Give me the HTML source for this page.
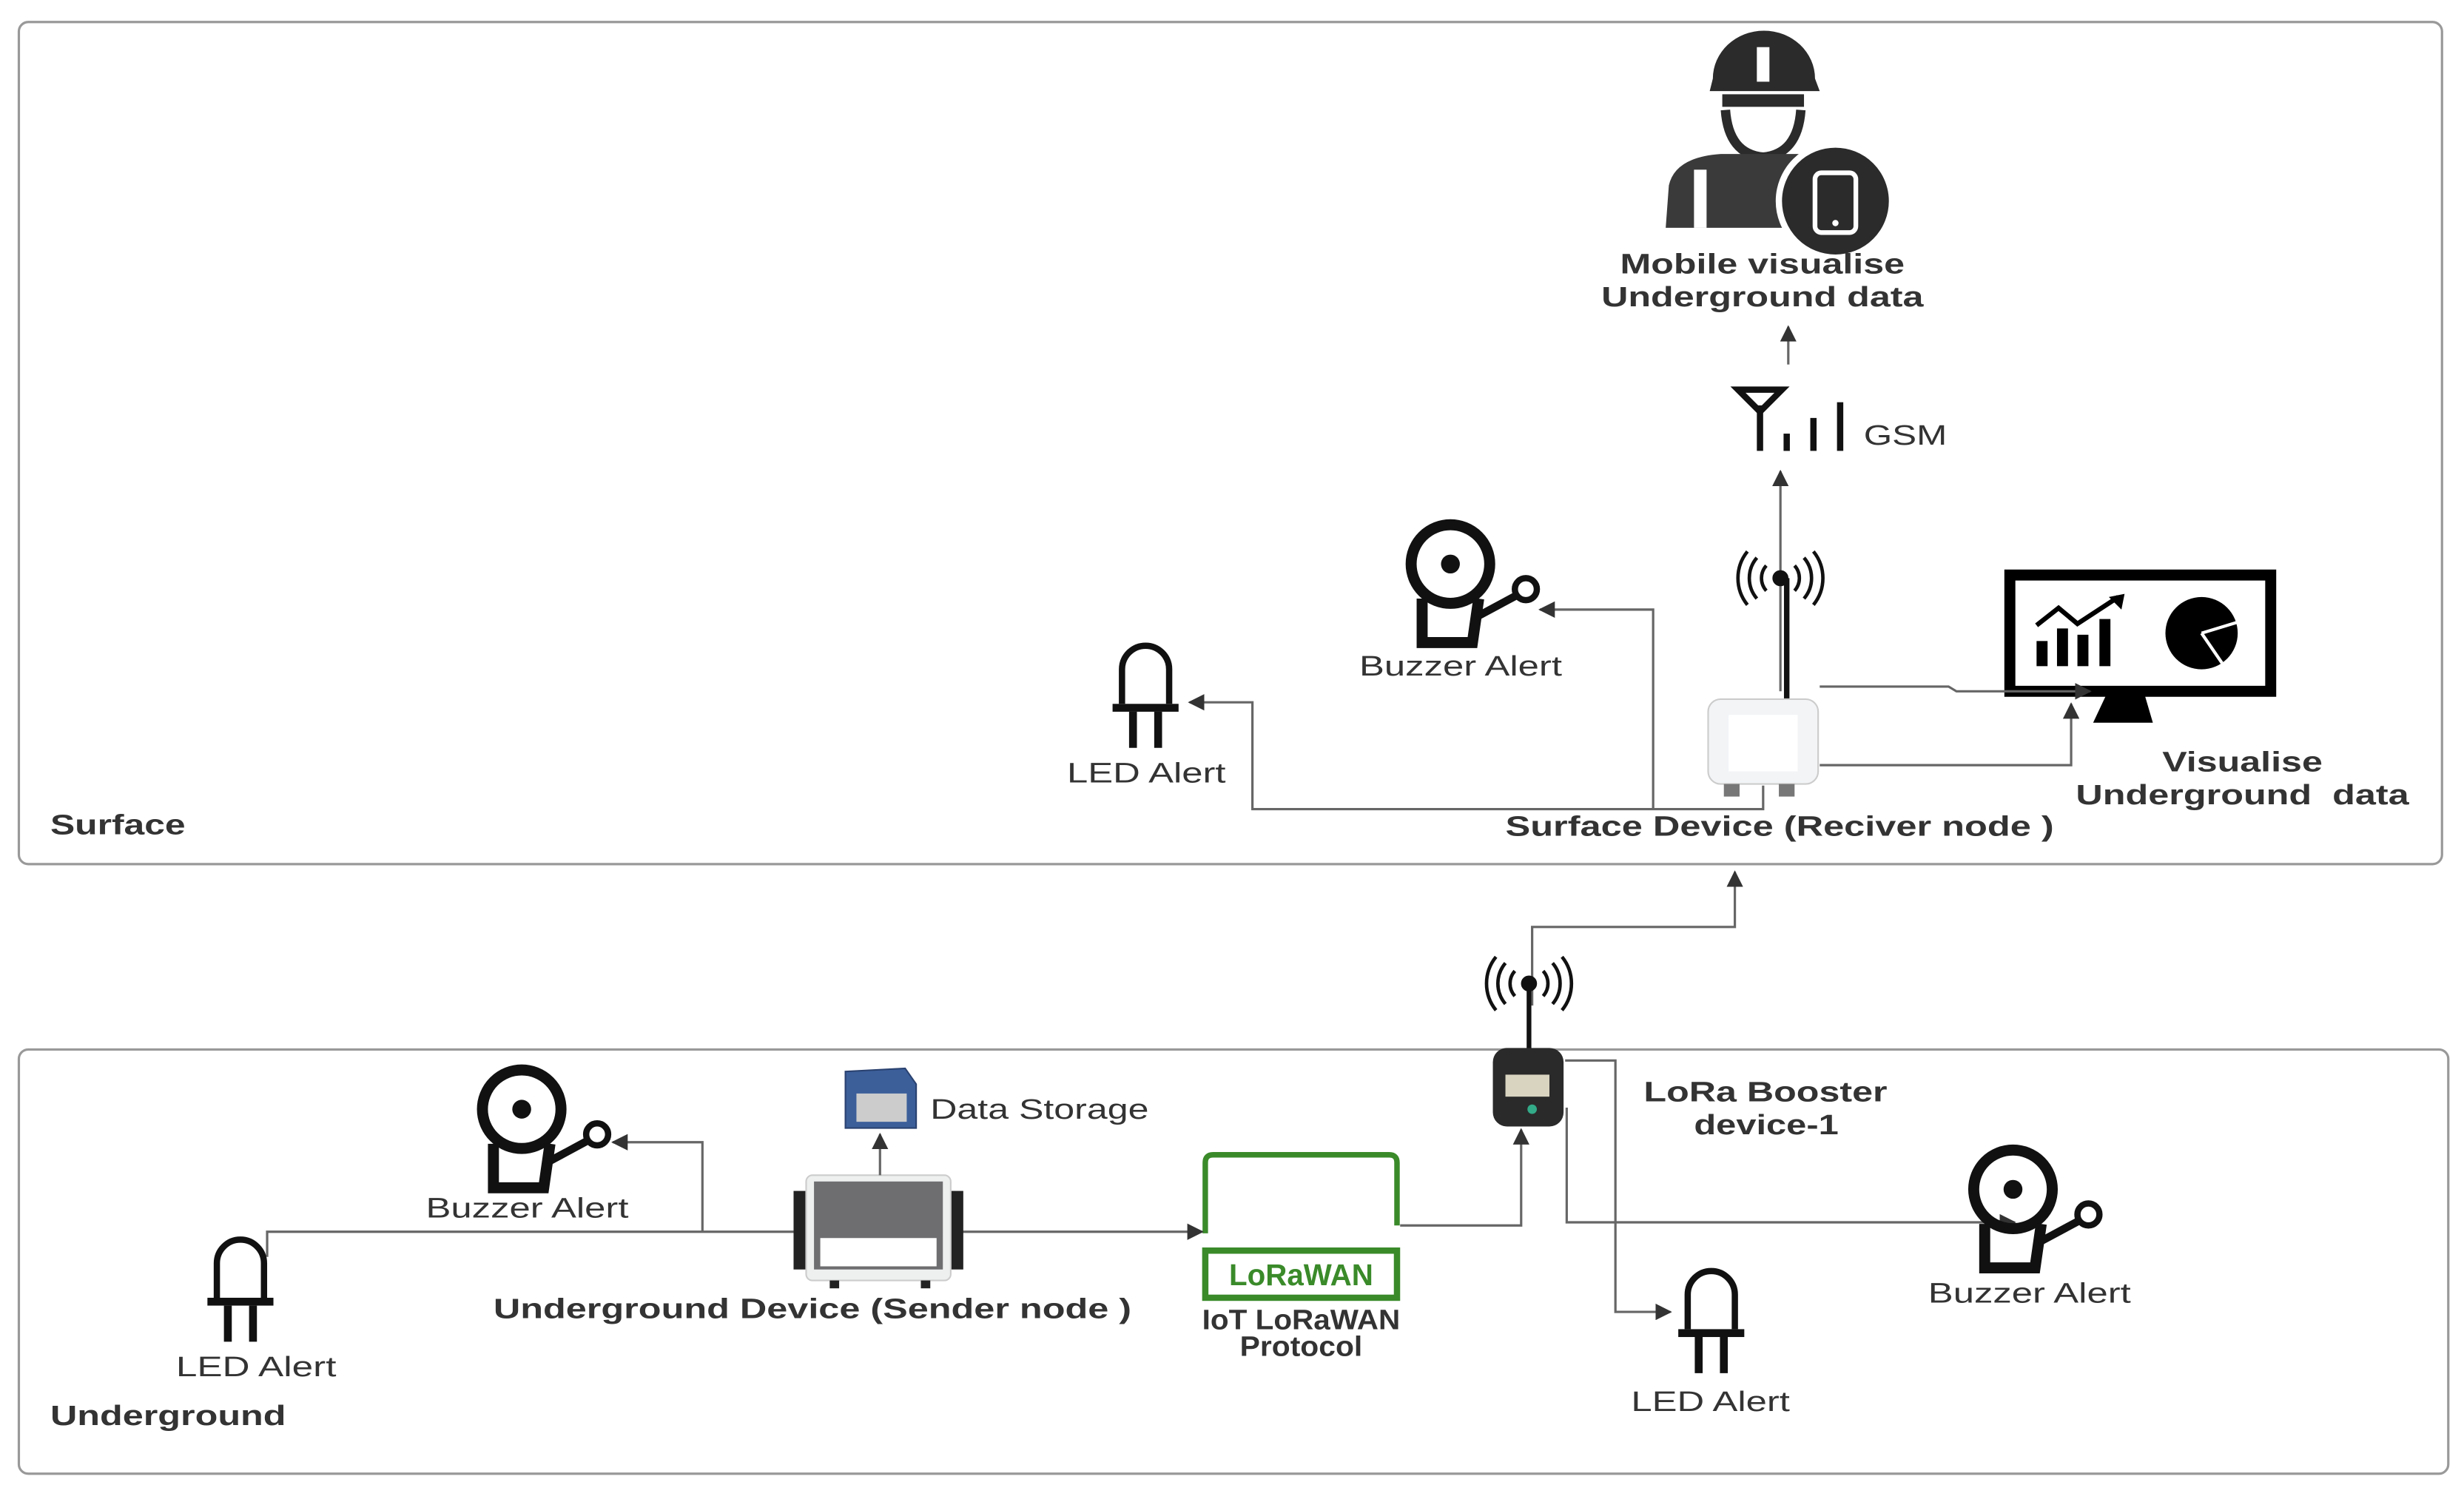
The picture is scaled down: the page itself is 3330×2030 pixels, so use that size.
<!DOCTYPE html>
<html><head><meta charset="utf-8"><style>
html,body{margin:0;padding:0;background:#fff;}
svg{display:block;}
text{font-family:"Liberation Sans",Arial,sans-serif;}
.b{font-weight:bold;fill:#333;font-size:18px;}
.n{fill:#333;font-size:18px;}
.ln{fill:none;stroke:#666;stroke-width:1.5;}
</style></head><body>
<svg width="3330" height="2030" viewBox="0 0 1568 956" preserveAspectRatio="none" xmlns="http://www.w3.org/2000/svg">
<defs>
<marker id="ar" viewBox="0 0 10 10" refX="9" refY="5" markerWidth="7" markerHeight="7" orient="auto-start-reverse"><path d="M0,0L10,5L0,10z" fill="#333"/></marker>
<g id="buzz">
 <circle cx="30" cy="28" r="25" fill="none" stroke="#111" stroke-width="7"/>
 <circle cx="30" cy="28" r="6" fill="#111"/>
 <path d="M12,50 L12,78 L44,78 L48,50" fill="none" stroke="#111" stroke-width="7"/>
 <path d="M46,62 L72,48" stroke="#111" stroke-width="5"/>
 <circle cx="78" cy="44" r="7" fill="none" stroke="#111" stroke-width="4"/>
</g>
<g id="led">
 <path d="M8,40 L8,18 A15,15 0 0 1 38,18 L38,40" fill="none" stroke="#111" stroke-width="4"/>
 <rect x="2" y="40" width="42" height="5" fill="#111"/>
 <path d="M15,45 L15,68 M31,45 L31,68" stroke="#111" stroke-width="5"/>
</g>
<g id="wifi" fill="none" stroke="#111" stroke-width="2.2">
 <circle cx="0" cy="0" r="4" fill="#111"/>
 <path d="M-9,-8 A12,12 0 0 0 -9,8 M9,-8 A12,12 0 0 1 9,8"/>
 <path d="M-15,-13 A20,20 0 0 0 -15,13 M15,-13 A20,20 0 0 1 15,13"/>
 <path d="M-21,-17 A27,27 0 0 0 -21,17 M21,-17 A27,27 0 0 1 21,17"/>
</g>
</defs>

<rect x="12" y="14" width="1542" height="536" rx="6" fill="none" stroke="#999" stroke-width="1.5"/>
<rect x="12" y="668" width="1546" height="270" rx="6" fill="none" stroke="#999" stroke-width="1.5"/>
<text x="32" y="531" class="b" font-size="17" textLength="86" lengthAdjust="spacingAndGlyphs">Surface</text>
<text x="32" y="907" class="b" font-size="17" textLength="150" lengthAdjust="spacingAndGlyphs">Underground</text>

<!-- worker -->
<g>
 <path d="M1090,50 A32,30 0 0 1 1155,50 L1158,58 L1088,58z" fill="#2b2b2b"/>
 <rect x="1118" y="30" width="8" height="22" fill="#fff"/>
 <rect x="1096" y="60" width="52" height="8" fill="#2b2b2b"/>
 <path d="M1098,70 Q1100,98 1122,100 Q1144,98 1146,70" fill="none" stroke="#2b2b2b" stroke-width="6"/>
 <path d="M1060,145 L1062,118 Q1066,100 1095,98 L1150,98 Q1168,100 1175,112 L1160,145z" fill="#3a3a3a"/>
 <rect x="1078" y="108" width="8" height="37" fill="#fff"/>
 <circle cx="1168" cy="128" r="36" fill="#2b2b2b" stroke="#fff" stroke-width="4"/>
 <rect x="1155" y="110" width="26" height="38" rx="4" fill="none" stroke="#fff" stroke-width="3"/>
 <circle cx="1168" cy="142" r="2" fill="#fff"/>
</g>
<text x="1031" y="174" class="b" textLength="181" lengthAdjust="spacingAndGlyphs">Mobile visualise</text>
<text x="1019" y="195" class="b" textLength="205" lengthAdjust="spacingAndGlyphs">Underground data</text>
<line x1="1138" y1="232" x2="1138" y2="208" class="ln" marker-end="url(#ar)"/>

<!-- GSM -->
<g stroke="#111" stroke-width="4" fill="none">
 <path d="M1106,248 L1134,248 L1120,262z"/>
 <line x1="1120" y1="258" x2="1120" y2="287"/>
 <line x1="1137" y1="276" x2="1137" y2="287"/>
 <line x1="1154" y1="266" x2="1154" y2="287"/>
 <line x1="1171" y1="256" x2="1171" y2="287"/>
</g>
<text x="1186" y="283" class="n" textLength="53" lengthAdjust="spacingAndGlyphs">GSM</text>
<line x1="1133" y1="440" x2="1133" y2="300" class="ln" marker-end="url(#ar)"/>

<!-- surface device -->
<use href="#wifi" x="1133" y="368"/>
<line x1="1137" y1="368" x2="1137" y2="447" stroke="#111" stroke-width="3.5"/>
<rect x="1087" y="445" width="70" height="54" rx="8" fill="#f2f4f6" stroke="#ccc"/>
<rect x="1100" y="455" width="44" height="36" fill="#fff"/>
<rect x="1097" y="499" width="10" height="8" fill="#777"/><rect x="1132" y="499" width="10" height="8" fill="#777"/>

<!-- monitor -->
<rect x="1279" y="366" width="166" height="74" fill="none" stroke="#000" stroke-width="7"/>
<path d="M1340,443 L1365,443 L1370,460 L1332,460z" fill="#000"/>
<g fill="#000">
 <rect x="1296" y="408" width="7" height="16"/><rect x="1309" y="400" width="7" height="24"/><rect x="1322" y="404" width="7" height="20"/><rect x="1336" y="394" width="7" height="30"/>
</g>
<path d="M1296,398 L1310,387 L1322,397 L1348,380" fill="none" stroke="#000" stroke-width="3"/>
<path d="M1342,380 L1352,378 L1350,388z" fill="#000"/>
<circle cx="1401" cy="403" r="23" fill="#000"/>
<path d="M1401,403 L1424,396 M1401,403 L1414,422" stroke="#fff" stroke-width="2"/>
<path d="M1158,437 L1240,437 L1245,440 L1330,440" class="ln" marker-end="url(#ar)"/>
<path d="M1158,487 L1318,487 L1318,448" class="ln" marker-end="url(#ar)"/>
<text x="1376" y="491" class="b" textLength="102" lengthAdjust="spacingAndGlyphs">Visualise</text>
<text x="1321" y="512" class="b" textLength="212" lengthAdjust="spacingAndGlyphs" xml:space="preserve">Underground  data</text>
<text x="958" y="532" class="b" textLength="349" lengthAdjust="spacingAndGlyphs">Surface Device (Reciver node )</text>

<!-- surface alerts -->
<path d="M1122,500 L1122,515 L797,515 L797,447 L757,447" class="ln" marker-end="url(#ar)"/>
<path d="M1052,515 L1052,388 L980,388" class="ln" marker-end="url(#ar)"/>
<use href="#buzz" x="893" y="331"/>
<text x="865" y="430" class="n" textLength="129" lengthAdjust="spacingAndGlyphs">Buzzer Alert</text>
<use href="#led" x="706" y="408"/>
<text x="679" y="498" class="n" textLength="101" lengthAdjust="spacingAndGlyphs">LED Alert</text>

<!-- booster -->
<path d="M975,640 L975,590 L1104,590 L1104,555" class="ln" marker-end="url(#ar)"/>
<use href="#wifi" x="973" y="626"/>
<line x1="973" y1="626" x2="973" y2="670" stroke="#111" stroke-width="3"/>
<rect x="950" y="667" width="45" height="50" rx="9" fill="#2a2a2a"/>
<rect x="958" y="684" width="28" height="14" fill="#d8d4c0"/>
<circle cx="975" cy="706" r="3" fill="#3a8"/>
<text x="1046" y="701" class="b" textLength="155" lengthAdjust="spacingAndGlyphs">LoRa Booster</text>
<text x="1078" y="722" class="b" textLength="92" lengthAdjust="spacingAndGlyphs">device-1</text>
<path d="M996,675 L1028,675 L1028,835 L1063,835" class="ln" marker-end="url(#ar)"/>
<path d="M997,705 L997,778 L1282,778" class="ln" marker-end="url(#ar)"/>
<use href="#buzz" x="1251" y="729"/>
<text x="1227" y="829" class="n" textLength="129" lengthAdjust="spacingAndGlyphs">Buzzer Alert</text>
<use href="#led" x="1066" y="806"/>
<text x="1038" y="898" class="n" textLength="101" lengthAdjust="spacingAndGlyphs">LED Alert</text>

<!-- LoRaWAN -->
<path d="M767,785 L767,740 Q767,735 772,735 L884,735 Q889,735 889,740 L889,780" fill="none" stroke="#3a8a2a" stroke-width="3.5"/>
<rect x="767" y="796" width="122" height="30" fill="none" stroke="#3a8a2a" stroke-width="4"/>
<text x="828" y="818" text-anchor="middle" font-size="19" font-weight="bold" fill="#3a8a2a">LoRaWAN</text>
<text x="765" y="846" class="b" font-size="15" fill="#111" textLength="126" lengthAdjust="spacingAndGlyphs">IoT LoRaWAN</text>
<text x="789" y="863" class="b" font-size="15" fill="#111" textLength="78" lengthAdjust="spacingAndGlyphs">Protocol</text>
<path d="M612,784 L765,784" class="ln" marker-end="url(#ar)"/>
<path d="M891,780 L968,780 L968,719" class="ln" marker-end="url(#ar)"/>

<!-- sender -->
<rect x="505" y="758" width="10" height="50" fill="#222"/><rect x="603" y="758" width="10" height="50" fill="#222"/>
<rect x="513" y="748" width="92" height="67" rx="4" fill="#eef0f0" stroke="#ccc"/>
<rect x="518" y="752" width="82" height="56" fill="#6e6e70"/>
<rect x="522" y="788" width="74" height="18" fill="#fff"/>
<rect x="528" y="815" width="6" height="5" fill="#222"/><rect x="586" y="815" width="6" height="5" fill="#222"/>
<text x="314" y="839" class="b" textLength="406" lengthAdjust="spacingAndGlyphs">Underground Device (Sender node )</text>
<path d="M560,748 L560,722" class="ln" marker-end="url(#ar)"/>
<path d="M538,682 L576,680 L583,690 L583,718 L538,718z" fill="#3c5f9a" stroke="#2a4270"/>
<rect x="545" y="696" width="32" height="18" fill="#ccc"/>
<text x="592" y="712" class="n" textLength="139" lengthAdjust="spacingAndGlyphs">Data Storage</text>
<path d="M505,784 L170,784 L170,800" class="ln"/>
<path d="M447,784 L447,727 L390,727" class="ln" marker-end="url(#ar)"/>
<use href="#buzz" x="302" y="678"/>
<text x="271" y="775" class="n" textLength="129" lengthAdjust="spacingAndGlyphs">Buzzer Alert</text>
<use href="#led" x="130" y="786"/>
<text x="112" y="876" class="n" textLength="102" lengthAdjust="spacingAndGlyphs">LED Alert</text>
</svg>
</body></html>
